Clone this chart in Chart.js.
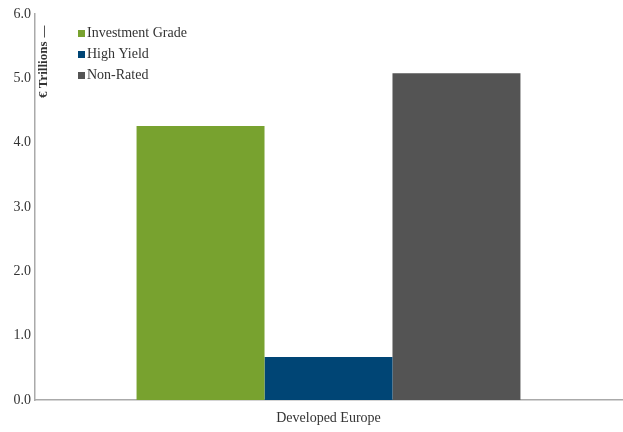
<!DOCTYPE html>
<html>
<head>
<meta charset="utf-8">
<script src="https://cdn.jsdelivr.net/npm/chart.js@4"></script>
<style>
  html, body { margin: 0; padding: 0; background: #fff; }
  #wrap { width: 623px; height: 432px; }
</style>
</head>
<body>
<div id="wrap"><canvas id="chart" width="623" height="432"></canvas></div>
<script>
// Data
const categories = ['Developed Europe'];
const seriesNames = ['Investment Grade', 'High Yield', 'Non-Rated'];
const investmentGrade = [4.26];
const highYield = [0.67];
const nonRated = [5.08];
const seriesColors = ['#78a22f', '#004575', '#545454'];

const FONT = "'Liberation Serif', 'DejaVu Serif', serif";

// Legend and axis title drawn inside the plot area
const insideLabels = {
  id: 'insideLabels',
  afterDraw(chart) {
    const ctx = chart.ctx;
    const area = chart.chartArea;
    ctx.save();
    // y-axis title
    ctx.translate(area.left + 9, area.top + 84);
    ctx.rotate(-Math.PI / 2);
    ctx.font = 'bold 13px ' + FONT;
    ctx.fillStyle = '#333';
    ctx.textBaseline = 'middle';
    ctx.textAlign = 'left';
    ctx.fillText('€ Trillions', 0, 0);
    const w = ctx.measureText('€ Trillions').width;
    ctx.strokeStyle = '#555';
    ctx.lineWidth = 1;
    ctx.beginPath();
    ctx.moveTo(w + 4, 0.5);
    ctx.lineTo(w + 16, 0.5);
    ctx.stroke();
    ctx.restore();

    // legend
    ctx.save();
    ctx.font = '14px ' + FONT;
    ctx.textBaseline = 'middle';
    chart.data.datasets.forEach((ds, i) => {
      const y = area.top + 19 + i * 21;
      ctx.fillStyle = ds.backgroundColor;
      ctx.fillRect(area.left + 43, y - 3, 7, 7);
      ctx.fillStyle = '#333';
      ctx.fillText(ds.label, area.left + 52, y);
    });
    ctx.restore();
  }
};

new Chart(document.getElementById('chart'), {
  type: 'bar',
  data: {
    labels: categories,
    datasets: [
      { label: seriesNames[0], data: investmentGrade, backgroundColor: seriesColors[0] },
      { label: seriesNames[1], data: highYield, backgroundColor: seriesColors[1] },
      { label: seriesNames[2], data: nonRated, backgroundColor: seriesColors[2] }
    ]
  },
  options: {
    responsive: false,
    animation: false,
    layout: { padding: { top: 14, right: 1, left: 0, bottom: 0 } },
    plugins: {
      legend: { display: false },
      tooltip: { enabled: false }
    },
    datasets: {
      bar: { categoryPercentage: 0.654, barPercentage: 1.0 }
    },
    scales: {
      x: {
        grid: { display: false, drawTicks: false },
        border: { display: true, color: '#aaa', width: 1.5 },
        ticks: { color: '#333', font: { family: FONT, size: 14 }, padding: 10 },
        afterFit(scale) { scale.height = 32; }
      },
      y: {
        min: 0,
        max: 6,
        grid: { display: false, drawTicks: false },
        border: { display: true, color: '#aaa', width: 1.5 },
        ticks: {
          stepSize: 1,
          color: '#333',
          padding: 4,
          font: { family: FONT, size: 14 },
          callback: v => v.toFixed(1)
        },
        afterFit(scale) { scale.width = 35; }
      }
    }
  },
  plugins: [insideLabels]
});
</script>
</body>
</html>
